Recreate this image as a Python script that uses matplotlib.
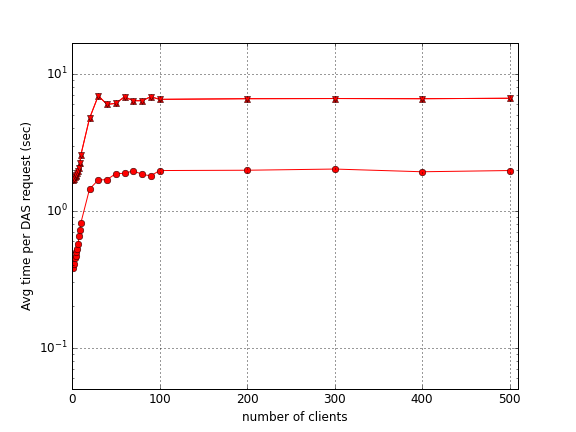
import matplotlib
matplotlib.use('Agg')
import matplotlib.pyplot as plt

plt.style.use('classic')
plt.rcParams['mathtext.default'] = 'regular'

clients = [1, 2, 3, 4, 5, 6, 7, 8, 9, 10,
           20, 30, 40, 50, 60, 70, 80, 90, 100,
           200, 300, 400, 500]

# avg time of the fast series (circles)
avg_circle = [0.38, 0.41, 0.45, 0.47, 0.50, 0.53, 0.57, 0.65, 0.72, 0.81,
              1.44, 1.68, 1.69, 1.87, 1.88, 1.96, 1.85, 1.80, 1.97,
              1.98, 2.02, 1.93, 1.97]

# avg time of the slow series (triangles up / down)
avg_up = [1.68, 1.72, 1.76, 1.80, 1.84, 1.88, 1.95, 2.04, 2.22, 2.54,
          4.74, 6.93, 6.0, 6.1, 6.82, 6.38, 6.38, 6.82, 6.53,
          6.6, 6.62, 6.6, 6.65]
avg_down = [1.68, 1.72, 1.76, 1.80, 1.84, 1.88, 1.95, 2.04, 2.22, 2.54,
            4.74, 6.93, 6.0, 6.1, 6.82, 6.38, 6.38, 6.82, 6.53,
            6.6, 6.62, 6.6, 6.65]

fig = plt.figure(figsize=(8, 6), dpi=72)
ax = fig.add_subplot(111)

ax.plot(clients, avg_circle, 'ro-', mec='#3a0000', mew=0.6, ms=6.5)
ax.plot(clients, avg_up, 'r^-', mec='#3a0000', mew=0.6, ms=6.5)
ax.plot(clients, avg_down, 'rv-', mec='#3a0000', mew=0.6, ms=6.5)

ax.set_yscale('log')
ax.set_xlim(0, 510)
ax.set_ylim(0.05, 16.8)
ax.grid(True, color='k', linestyle=(0, (1, 3)), linewidth=0.8)
ax.set_xlabel('number of clients')
ax.set_ylabel('Avg time per DAS request (sec)')

fig.savefig('out.png', dpi=72)
